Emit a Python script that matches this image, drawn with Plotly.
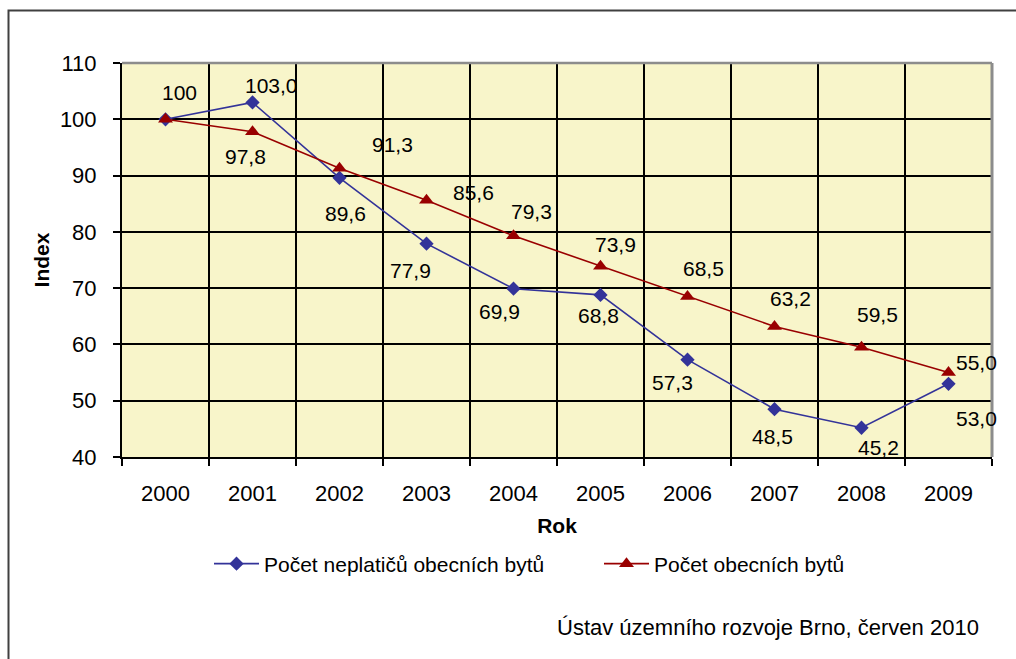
import plotly.graph_objects as go

# Index values (2000 = 100)
years = ["2000", "2001", "2002", "2003", "2004", "2005", "2006", "2007", "2008", "2009"]
neplatici = [100, 103.0, 89.6, 77.9, 69.9, 68.8, 57.3, 48.5, 45.2, 53.0]
byty = [100, 97.8, 91.3, 85.6, 79.3, 73.9, 68.5, 63.2, 59.5, 55.0]
y_ticks = [40, 50, 60, 70, 80, 90, 100, 110]

name_neplatici = "Počet neplatičů obecních bytů"
name_byty = "Počet obecních bytů"

BLUE = "#333399"
RED = "#990000"
FONT = "Liberation Sans, Arial, sans-serif"

W, H = 1016, 659
ML, MR, MT, MB = 122, 24, 63, 202
PW, PH = W - ML - MR, H - MT - MB


def fmt(v, first=False):
    return "100" if first else f"{v:.1f}".replace(".", ",")


# label offsets in pixels (dx, dy) relative to each point
off_neplatici = [(14, -27), (19, -17), (6, 36), (-16, 27), (-14, 23),
                 (-2, 21), (-15, 23), (-2, 27), (17, 20), (28, 35)]
off_byty = [None, (-7, 25), (53, -24), (47, -8), (18, -24),
            (15, -22), (16, -28), (16, -28), (16, -33), (28, -10)]

fig = go.Figure()
fig.add_trace(go.Scatter(
    x=years, y=neplatici, name=name_neplatici, mode="lines+markers",
    line=dict(color=BLUE, width=1.6),
    marker=dict(symbol="diamond", size=11, color=BLUE),
    showlegend=True, legend="legend",
))
fig.add_trace(go.Scatter(
    x=years, y=byty, name=name_byty, mode="lines+markers",
    line=dict(color=RED, width=1.6),
    marker=dict(symbol="triangle-up", size=13, color=RED),
    showlegend=True, legend="legend2",
))

annotations = []
for i, v in enumerate(neplatici):
    dx, dy = off_neplatici[i]
    annotations.append(dict(x=i, y=v, xref="x", yref="y", text=fmt(v, i == 0),
                            showarrow=False, xshift=dx, yshift=-dy,
                            font=dict(family=FONT, size=21, color="black")))
for i, v in enumerate(byty):
    if off_byty[i] is None:
        continue
    dx, dy = off_byty[i]
    annotations.append(dict(x=i, y=v, xref="x", yref="y", text=fmt(v),
                            showarrow=False, xshift=dx, yshift=-dy,
                            font=dict(family=FONT, size=21, color="black")))


def px(x):
    return (x - ML) / PW


def py(y):
    return (H - MB - y) / PH


annotations.append(dict(x=px(981), y=py(627), xref="paper", yref="paper",
                        xanchor="right", yanchor="middle", showarrow=False,
                        text="Ústav územního rozvoje Brno, červen 2010",
                        font=dict(family=FONT, size=22, color="black")))

shapes = [
    # outer frame
    dict(type="rect", xref="paper", yref="paper", x0=px(8.5), y0=py(10.5),
         x1=px(1030), y1=py(680), line=dict(color="#404040", width=2)),
    # plot area top and right edges
    dict(type="line", xref="paper", yref="paper", x0=0, x1=1, y0=1, y1=1,
         line=dict(color="#8c8c8c", width=2.5)),
    dict(type="line", xref="paper", yref="paper", x0=1, x1=1, y0=0, y1=1,
         line=dict(color="#8c8c8c", width=3)),
]

legend_style = dict(yanchor="middle", xanchor="left", orientation="h",
                    bgcolor="rgba(0,0,0,0)", itemwidth=45,
                    font=dict(family=FONT, size=21, color="black"))

fig.update_layout(
    width=W, height=H,
    margin=dict(l=ML, r=MR, t=MT, b=MB),
    paper_bgcolor="white",
    plot_bgcolor="#F8F5CA",
    font=dict(family=FONT, size=21, color="black"),
    annotations=annotations,
    shapes=shapes,
    showlegend=True,
    legend=dict(x=px(209), y=py(564), **legend_style),
    legend2=dict(x=px(599), y=py(564), **legend_style),
)

fig.update_xaxes(
    type="category", tickson="boundaries", range=[-0.5, 9.5],
    showgrid=True, gridcolor="black", gridwidth=2,
    showline=True, linecolor="black", linewidth=2,
    ticks="outside", ticklen=7, tickwidth=2, tickcolor="black",
    ticklabelstandoff=16,
    tickfont=dict(family=FONT, size=22, color="black"),
    title=dict(text="<b>Rok</b>", standoff=13,
               font=dict(family=FONT, size=21, color="black")),
)
fig.update_yaxes(
    range=[40, 110], tickvals=y_ticks,
    showgrid=True, gridcolor="black", gridwidth=2,
    showline=True, linecolor="black", linewidth=2,
    ticks="outside", ticklen=7, tickwidth=2, tickcolor="black",
    ticklabelstandoff=12, zeroline=False,
    tickfont=dict(family=FONT, size=22, color="black"),
    title=dict(text="<b>Index</b>", standoff=5,
               font=dict(family=FONT, size=21, color="black")),
)

fig.write_html("out.html")
